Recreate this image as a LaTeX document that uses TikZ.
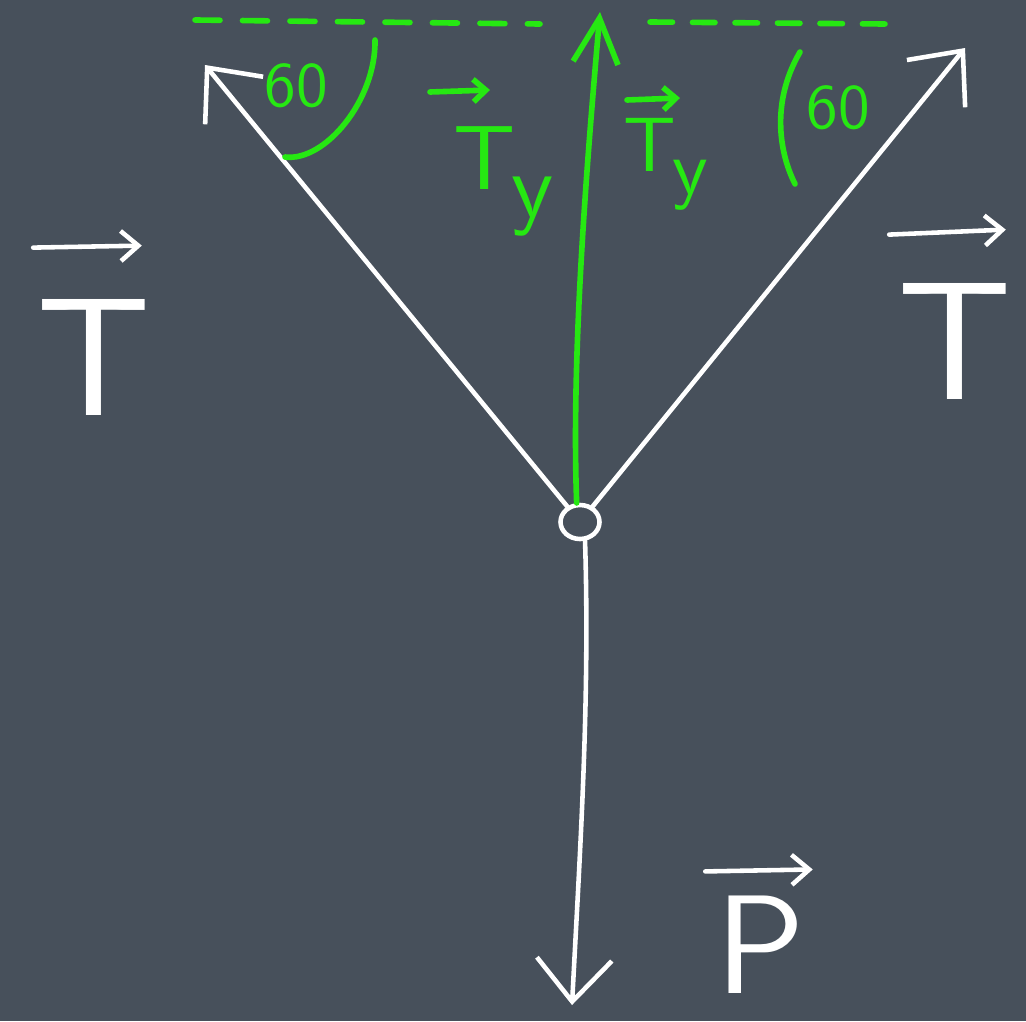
\documentclass[tikz,border=0pt]{standalone}
\usepackage{amsmath}
\usetikzlibrary{calc, positioning}
\usetikzlibrary{arrows.meta}
\usetikzlibrary{shapes.geometric}

\definecolor{board}{RGB}{71,80,91}
\definecolor{chalkgreen}{RGB}{38,232,18}

\begin{document}
\begin{tikzpicture}[x=0.02cm, y=-0.02cm,
  every node/.style={font=\sffamily, inner sep=0pt},
  rope/.style={white, line width=2.6pt, line cap=round},
  aux/.style={chalkgreen, line width=3.2pt, line cap=round},
  barb/.style={-{Straight Barb[length=0.85cm, width=1.5cm]}},
  gbarb/.style={-{Straight Barb[length=0.9cm, width=0.9cm]}},
  vecw/.style={rope, -{Straight Barb[length=0.35cm, width=0.6cm]}},
  vecg/.style={aux, -{Straight Barb[length=0.25cm, width=0.45cm]}}]
\def\W{1026}
\def\H{1021}

\fill[board] (0,0) rectangle (\W,\H);
\useasboundingbox (0,0) rectangle (\W,\H);

\coordinate (Ltop) at (205,65);
\coordinate (Rtop) at (965,48);
\coordinate (Ytop) at (600,12);
\coordinate (Pend) at (572,1005);

\node[ellipse, draw=white, line width=2.6pt, minimum width=0.78cm, minimum height=0.68cm] (knot) at (580,522) {};

% ropes and weight
\draw[rope, barb] (knot) -- (Ltop);
\draw[rope, barb] (knot) -- (Rtop);
\draw[rope, barb] (knot.-75) .. controls (590,700) and (580,850) .. (Pend);

% vertical components
\draw[aux, gbarb] (knot.100) .. controls (571,350) and (588,150) .. (Ytop);
\draw[aux, dash pattern=on 0.5cm off 0.45cm] (195,20) -- (540,24);
\draw[aux, dash pattern=on 0.45cm off 0.4cm] (650,22) -- (885,24);

% angles
\draw[aux] (375,40) .. controls (376,100) and (325,162) .. (285,157);
\draw[aux] (800,52) .. controls (772,100) and (778,150) .. (795,184);
\node[chalkgreen, scale=3.6] (angL) at (296,86) {60};
\node[chalkgreen, scale=3.6] (angR) at (838,108) {60};

% labels
\node[chalkgreen, scale=5.2, anchor=north west] (TyL) at (452,125) {T\kern-0.05em\raisebox{-0.3em}{y}};
\node[chalkgreen, scale=4.4, anchor=north west] (TyR) at (622,117) {T\kern-0.05em\raisebox{-0.3em}{y}};
\node[white, scale=9.6] (TL) at (94,357) {T};
\node[white, scale=9.6] (TR) at (955,341) {T};
\node[white, scale=8] (P) at (760,945) {P};

% vector arrows over the letters
\draw[vecw] ($(TL.north west)+(0,-48)$) -- ($(TL.north east)+(-13,-50)$);
\draw[vecw] ($(TR.north west)+(-5,-45)$) -- ($(TR.north east)+(-10,-50)$);
\draw[vecw] ($(P.north west)+(-7,-22)$) -- ($(P.north east)+(5,-24)$);
\draw[vecg] ($(TyL.north west)+(-22,-33)$) -- ($(TyL.north west)+(38,-35)$);
\draw[vecg] ($(TyR.north west)+(5,-17)$) -- ($(TyR.north west)+(58,-19)$);
\end{tikzpicture}
\end{document}
